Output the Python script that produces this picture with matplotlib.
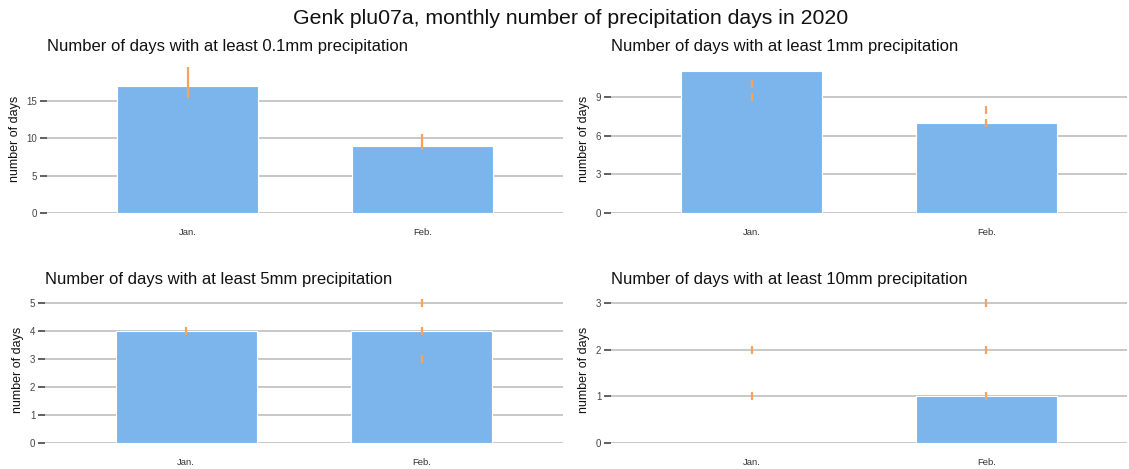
import matplotlib
matplotlib.use("Agg")
import matplotlib.pyplot as plt

plt.rcParams["font.family"] = ["Liberation Sans", "DejaVu Sans"]

# Monthly counts of precipitation days, Genk plu07a, 2020
months = ["Jan.", "Feb."]
days_ge_01mm = [17, 9]
days_ge_1mm = [11, 7]
days_ge_5mm = [4, 4]
days_ge_10mm = [0, 1]

# Values from the comparison years, one list per month
marks_ge_01mm = [[16, 17, 18, 19], [9, 10]]
marks_ge_1mm = [[9, 10], [7, 8]]
marks_ge_5mm = [[4], [3, 4, 5]]
marks_ge_10mm = [[1, 2], [1, 2, 3]]

titles = [
    "Number of days with at least 0.1mm precipitation",
    "Number of days with at least 1mm precipitation",
    "Number of days with at least 5mm precipitation",
    "Number of days with at least 10mm precipitation",
]
yticks = [[0, 5, 10, 15], [0, 3, 6, 9], [0, 1, 2, 3, 4, 5], [0, 1, 2, 3]]

BAR = "#7cb5ec"
MARK = "#f7a35c"
GRID = "#c4c4c4"

W, H = 1129, 469
fig = plt.figure(figsize=(W / 100, H / 100), dpi=100)

# axes boxes in pixels: left, top, right, bottom
boxes = [
    (47, 64, 563, 213),
    (611, 64, 1127, 213),
    (45, 296, 563, 443),
    (611, 296, 1127, 443),
]

panels = [
    (days_ge_01mm, marks_ge_01mm),
    (days_ge_1mm, marks_ge_1mm),
    (days_ge_5mm, marks_ge_5mm),
    (days_ge_10mm, marks_ge_10mm),
]

for (vals, marks), title, ticks, (l, t, r, b) in zip(panels, titles, yticks, boxes):
    ax = fig.add_axes([l / W, 1 - b / H, (r - l) / W, (b - t) / H])
    x = list(range(len(months)))
    edges = [BAR if v == 0 else "white" for v in vals]
    ax.bar(x, vals, width=0.6, color=BAR, edgecolor=edges, linewidth=0.8, zorder=2)
    for xi, mv in zip(x, marks):
        ax.plot([xi] * len(mv), mv, linestyle="none", marker="|",
                markersize=6, markeredgewidth=1.6, color=MARK, zorder=3)
    top = max(max(vals), max(max(m) for m in marks))
    ax.set_ylim(0, top * 1.05)
    ax.set_xlim(-0.6, 1.6)
    ax.set_yticks(ticks)
    ax.yaxis.grid(True, color=GRID, linewidth=1.3, zorder=0)
    ax.set_axisbelow(True)
    for s in ax.spines.values():
        s.set_visible(False)
    ax.set_xticks(x)
    ax.set_xticklabels(months, fontsize=6.8, color="#333333")
    ax.tick_params(axis="x", length=0, pad=11)
    ax.tick_params(axis="y", length=5, width=1.2, color="#444444",
                   labelsize=7, labelcolor="#444444", pad=2)
    ax.set_ylabel("number of days", fontsize=9, color="#111111", labelpad=4)
    ax.set_title(title, loc="left", fontsize=12, color="#111111", pad=9, x=0.0)

fig.suptitle("Genk plu07a, monthly number of precipitation days in 2020",
             fontsize=15.3, x=0.505, y=0.98, color="#111111")

fig.savefig("out.png", dpi=100)
